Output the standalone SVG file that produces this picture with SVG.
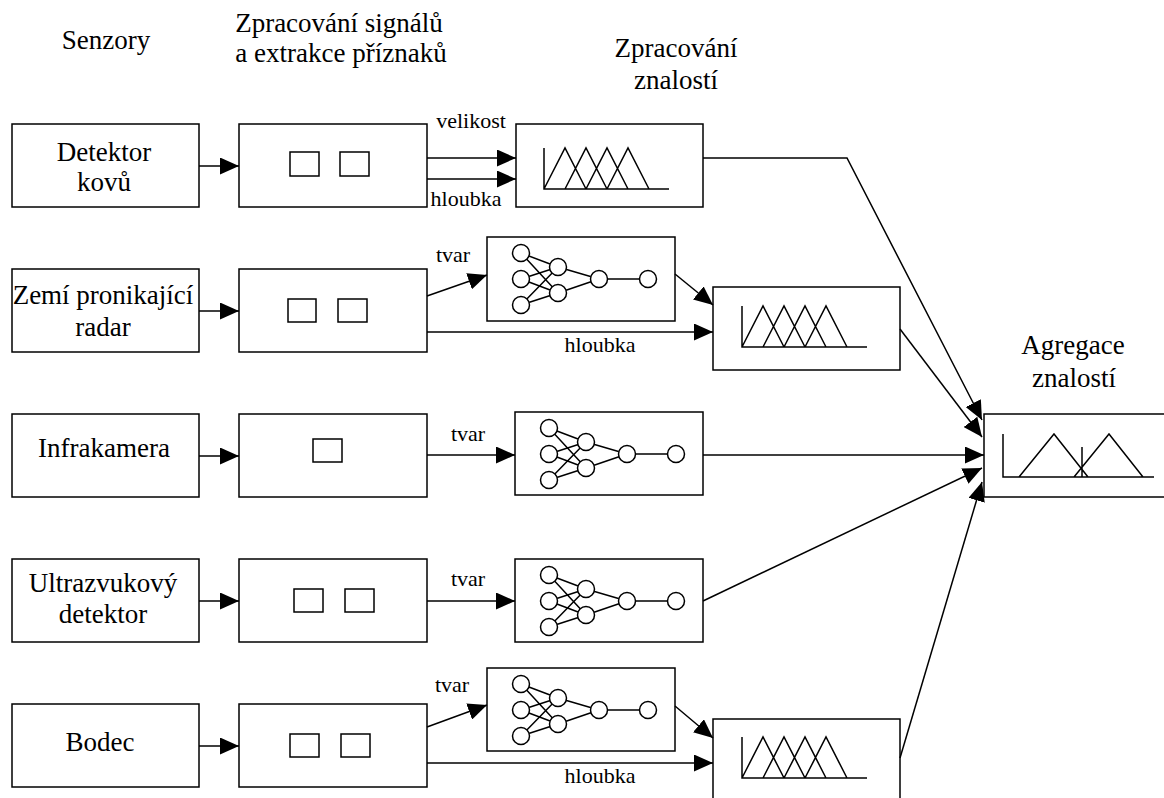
<svg xmlns="http://www.w3.org/2000/svg" xmlns:xlink="http://www.w3.org/1999/xlink" width="1164" height="798" viewBox="0 0 1164 798">
<style>
.b{fill:#fff;stroke:#000;stroke-width:1.5}
.l{fill:none;stroke:#000;stroke-width:1.5}
.c{fill:#fff;stroke:#000;stroke-width:1.5}
text{fill:#000;text-anchor:middle;font-family:"Times New Roman","Liberation Serif",Tinos,serif}
.t{font-size:27px}
.s{font-size:22px}
</style>
<defs>
<marker id="ah" markerWidth="19" markerHeight="17" refX="19" refY="8.5" orient="auto" markerUnits="userSpaceOnUse"><path d="M0,0 L19,8.5 L0,17 z" fill="#000"/></marker>
<g id="nn">
<path class="l" d="M34,16 L71,30 M34,16 L71,56 M34,42 L71,30 M34,42 L71,56 M34,68 L71,30 M34,68 L71,56 M71,30 L112,42 M71,56 L112,42 M112,42 L161,42"/>
<circle class="c" cx="34" cy="16" r="8.5"/><circle class="c" cx="34" cy="42" r="8.5"/><circle class="c" cx="34" cy="68" r="8.5"/>
<circle class="c" cx="71" cy="30" r="8.5"/><circle class="c" cx="71" cy="56" r="8.5"/>
<circle class="c" cx="112" cy="42" r="8.5"/><circle class="c" cx="161" cy="42" r="8.5"/>
</g>
<g id="fz">
<path class="l" d="M0,0 L0,41 L125,41 M0,41 L21,0 L42,41 M21,41 L42,0 L63,41 M42,41 L63,0 L84,41 M63,41 L84,0 L105,41"/>
</g>
</defs>

<g id="headers">
<text class="t" x="106" y="49">Senzory</text>
<text class="t" x="339" y="32">Zpracování signálů</text>
<text class="t" x="341" y="62">a extrakce příznaků</text>
<text class="t" x="676" y="57">Zpracování</text>
<text class="t" x="676" y="89">znalostí</text>
<text class="t" x="1073" y="354">Agregace</text>
<text class="t" x="1074" y="387">znalostí</text>
</g>

<g id="sensor1"><rect class="b" x="12" y="124" width="187" height="83"/><text class="t" x="104" y="161">Detektor</text><text class="t" x="104" y="191">kovů</text></g>
<g id="sensor2"><rect class="b" x="12" y="269" width="187" height="83"/><text class="t" x="103" y="304">Zemí pronikající</text><text class="t" x="103" y="336">radar</text></g>
<g id="sensor3"><rect class="b" x="12" y="414" width="187" height="83"/><text class="t" x="104" y="457">Infrakamera</text></g>
<g id="sensor4"><rect class="b" x="12" y="559" width="187" height="83"/><text class="t" x="103" y="592">Ultrazvukový</text><text class="t" x="103" y="623">detektor</text></g>
<g id="sensor5"><rect class="b" x="12" y="704" width="187" height="83"/><text class="t" x="100" y="751">Bodec</text></g>

<g id="proc1"><rect class="b" x="239" y="124" width="188" height="83"/><rect class="b" x="290" y="152" width="29" height="24"/><rect class="b" x="340" y="152" width="29" height="24"/></g>
<g id="proc2"><rect class="b" x="239" y="269" width="188" height="83"/><rect class="b" x="288" y="299" width="28" height="23"/><rect class="b" x="338" y="299" width="29" height="23"/></g>
<g id="proc3"><rect class="b" x="239" y="414" width="188" height="83"/><rect class="b" x="313" y="439" width="29" height="23"/></g>
<g id="proc4"><rect class="b" x="239" y="559" width="188" height="83"/><rect class="b" x="294" y="589" width="29" height="23"/><rect class="b" x="345" y="589" width="29" height="23"/></g>
<g id="proc5"><rect class="b" x="239" y="704" width="188" height="83"/><rect class="b" x="290" y="734" width="29" height="23"/><rect class="b" x="341" y="734" width="29" height="23"/></g>

<g id="fuzzy1"><rect class="b" x="516" y="124" width="187" height="83"/><use xlink:href="#fz" x="544" y="148"/></g>
<g id="nn2"><rect class="b" x="487" y="237" width="188" height="84"/><use xlink:href="#nn" x="487" y="237"/></g>
<g id="fuzzy2"><rect class="b" x="713" y="287" width="187" height="83"/><use xlink:href="#fz" x="742" y="306"/></g>
<g id="nn3"><rect class="b" x="515" y="412" width="188" height="83"/><use xlink:href="#nn" x="515" y="412"/></g>
<g id="nn4"><rect class="b" x="515" y="559" width="188" height="83"/><use xlink:href="#nn" x="515" y="559"/></g>
<g id="nn5"><rect class="b" x="487" y="668" width="188" height="83"/><use xlink:href="#nn" x="487" y="668"/></g>
<g id="fuzzy5"><rect class="b" x="713" y="719" width="187" height="90"/><use xlink:href="#fz" x="742" y="737"/></g>

<g id="aggregation"><rect class="b" x="984" y="414" width="190" height="83"/>
<path class="l" d="M1003,434 L1003,477 L1154,477 M1019,477 L1054,434 L1088,477 M1074,477 L1109,434 L1143,477 M1082,447 L1082,477"/></g>

<g id="connectors">
<path class="l" marker-end="url(#ah)" d="M199,166 L239,166"/>
<path class="l" marker-end="url(#ah)" d="M199,311 L239,311"/>
<path class="l" marker-end="url(#ah)" d="M199,456 L239,456"/>
<path class="l" marker-end="url(#ah)" d="M199,601 L239,601"/>
<path class="l" marker-end="url(#ah)" d="M199,746 L239,746"/>

<path class="l" marker-end="url(#ah)" d="M427,158 L516,158"/>
<path class="l" marker-end="url(#ah)" d="M427,179 L516,179"/>
<path class="l" marker-end="url(#ah)" d="M427,296 L487,275"/>
<path class="l" marker-end="url(#ah)" d="M675,274 L713,305"/>
<path class="l" marker-end="url(#ah)" d="M427,332 L713,332"/>
<path class="l" marker-end="url(#ah)" d="M427,455 L515,455"/>
<path class="l" marker-end="url(#ah)" d="M427,601 L515,601"/>
<path class="l" marker-end="url(#ah)" d="M427,727 L487,705"/>
<path class="l" marker-end="url(#ah)" d="M675,706 L713,738"/>
<path class="l" marker-end="url(#ah)" d="M427,763 L713,763"/>

<path class="l" marker-end="url(#ah)" d="M703,158 L847,158 L982,420"/>
<path class="l" marker-end="url(#ah)" d="M900,329 L982,437"/>
<path class="l" marker-end="url(#ah)" d="M703,455 L984,455"/>
<path class="l" marker-end="url(#ah)" d="M703,601 L982,468"/>
<path class="l" marker-end="url(#ah)" d="M900,758 L982,482"/>

<text class="s" x="471" y="128">velikost</text>
<text class="s" x="466" y="206">hloubka</text>
<text class="s" x="453" y="262">tvar</text>
<text class="s" x="600" y="352">hloubka</text>
<text class="s" x="468" y="441">tvar</text>
<text class="s" x="468" y="586">tvar</text>
<text class="s" x="452" y="692">tvar</text>
<text class="s" x="600" y="783">hloubka</text>
</g>
</svg>
